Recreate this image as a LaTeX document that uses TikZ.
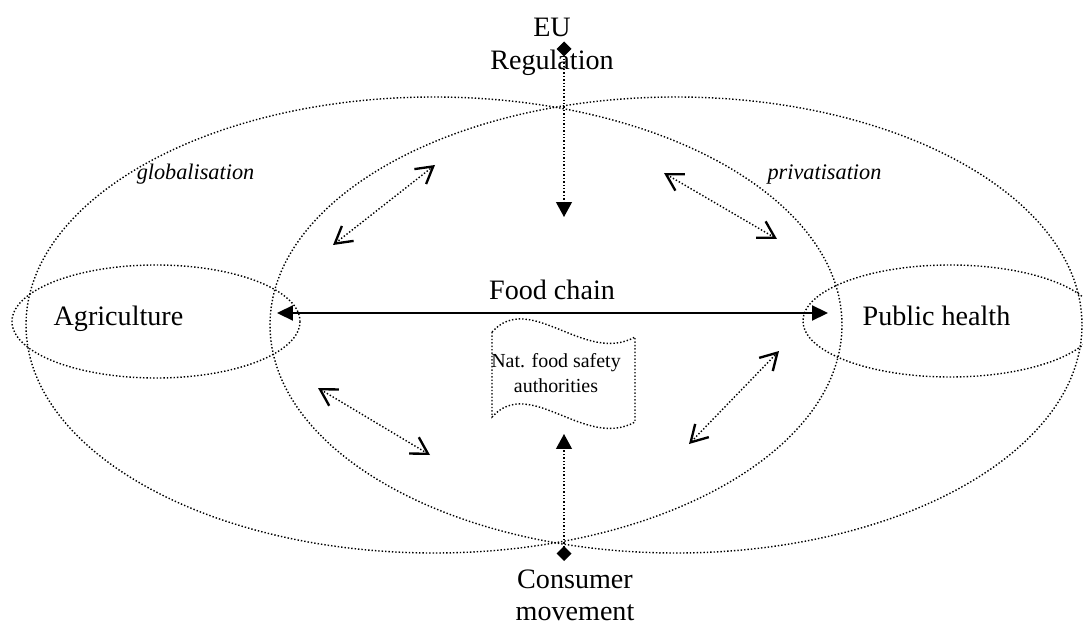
\documentclass[tikz,border=0pt]{standalone}
\usepackage{fontspec}
\setmainfont{Liberation Serif}
\usepackage{xcolor}
\usepackage{tikz}
\usetikzlibrary{positioning, arrows.meta, calc}

\tikzset{
  ring/.style={draw, line width=0.6pt, dash pattern=on 0.6pt off 0.85pt},
  lbl/.style={inner sep=0pt, font=\fontsize{12}{14}\selectfont, align=center},
  trend/.style={inner sep=0pt, font=\fontsize{9.5}{11}\selectfont\itshape},
  small/.style={inner sep=0pt, font=\fontsize{8.5}{10.7}\selectfont, align=center},
  flow/.style={ring, {Diamond[length=6.4pt,width=6.4pt]}-{Triangle[length=6.4pt,width=6.8pt]}},
  chainline/.style={draw, line width=0.85pt, {Triangle[length=6.8pt,width=6.4pt]}-{Triangle[length=6.8pt,width=6.4pt]}},
  link/.style={ring, {Straight Barb[length=7pt,width=8.1pt,line width=1pt]}-{Straight Barb[length=7pt,width=8.1pt,line width=1pt]}}
}

\begin{document}
\begin{tikzpicture}[x=0.015cm, y=-0.015cm]
  \useasboundingbox (0,0) rectangle (1083,624);
  % overlapping fields
  \draw[ring] (434,325) ellipse [x radius=408, y radius=228];
  \draw[ring] (676,325) ellipse [x radius=406, y radius=228];
  \draw[ring] (156,321.5) ellipse [x radius=144, y radius=56.5];
  \draw[ring] (950,321) ellipse [x radius=147, y radius=56];

  \node[lbl, anchor=base] (agri) at (118.5,325) {Agriculture};
  \node[lbl, anchor=base] (health) at (936.5,325) {Public health};
  \node[lbl, anchor=base] (chain) at (552,300) {Food chain};
  \node[lbl, anchor=north] (eu) at (552,18) {EU\\Regulation};
  \node[lbl, anchor=north] (consumer) at (575,569) {Consumer\\movement};
  \node[trend, anchor=base] (glob) at (195.5,180) {globalisation};
  \node[trend, anchor=base] (priv) at (824.5,180) {privatisation};

  % wavy flag
  \draw[ring] (492,332) .. controls (530,290) and (585,365) .. (635,337)
    -- (635,422) .. controls (585,450) and (530,375) .. (492,417) -- cycle;
  \node[small, anchor=north] (nfsa) at (556,353) {Nat. food safety\\authorities};

  \coordinate (eutail) at (564,41.5);
  \coordinate (euhead) at (564,217);
  \coordinate (cmtail) at (564,561);
  \coordinate (cmhead) at (564,434);
  \draw[flow] (eutail) -- (euhead);
  \draw[flow] (cmtail) -- (cmhead);

  \coordinate (chainW) at (277,313);
  \coordinate (chainE) at (828,313);
  \draw[chainline] (chainW) -- (chainE);

  \coordinate (ulA) at (333,245);
  \coordinate (ulB) at (435,165);
  \coordinate (urA) at (664,173);
  \coordinate (urB) at (777,239);
  \coordinate (llA) at (318,388);
  \coordinate (llB) at (430,455);
  \coordinate (lrA) at (689,444);
  \coordinate (lrB) at (779,351);
  \foreach \p/\q in {ulA/ulB, urA/urB, llA/llB, lrA/lrB}
    \draw[link] (\p) -- (\q);
\end{tikzpicture}
\end{document}
